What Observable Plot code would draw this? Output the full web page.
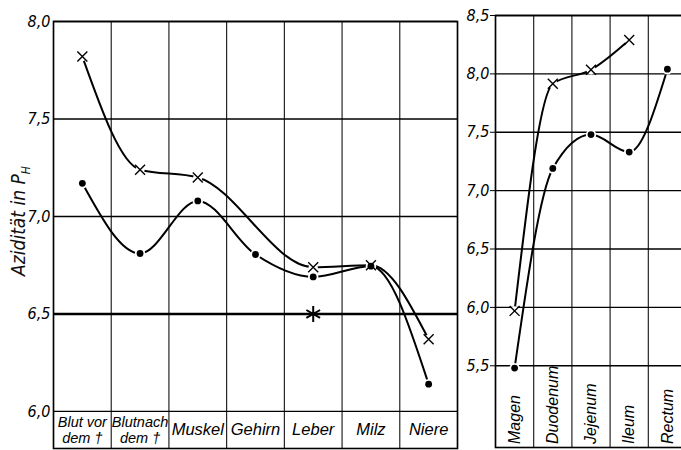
<!DOCTYPE html>
<html><head><meta charset="utf-8">
<script src="https://cdn.jsdelivr.net/npm/d3@7"></script>
<script src="https://cdn.jsdelivr.net/npm/@observablehq/plot@0.6"></script>
<style>
html,body{margin:0;padding:0;background:#fff;overflow:hidden;}
#wrap{position:relative;width:681px;height:450px;overflow:hidden;background:#fff;}
#left,#right{position:absolute;top:0;}
#left{left:0;width:460px;}
#right{left:455px;width:231px;}
#ylab{position:absolute;left:20px;top:221px;transform:translate(-50%,-50%) rotate(-90deg);font:italic 19px "DejaVu Sans Condensed","DejaVu Sans",sans-serif;white-space:nowrap;color:#111;z-index:2;}
#ylab sub{font-size:12px;}
</style></head><body>
<div id="wrap"><div id="ylab">Azidität in P<sub>H</sub></div><div id="left"></div><div id="right"></div></div>
<script>
// ---- data ----
const organs = ["Blut vor\ndem †", "Blutnach\ndem †", "Muskel", "Gehirn", "Leber", "Milz", "Niere"];
const organsCross = [7.82, 7.24, 7.20, null, 6.74, 6.75, 6.37];   // × series
const organsDot   = [7.17, 6.81, 7.08, 6.805, 6.69, 6.745, 6.14]; // • series
const starOrgan = "Leber";
const starValue = 6.5;
const leftTicks = [6.0, 6.5, 7.0, 7.5, 8.0];

const gut = ["Magen", "Duodenum", "Jejenum", "Ileum", "Rectum"];
const gutCross = [5.97, 7.915, 8.035, 8.29, null];
const gutDot   = [5.48, 7.19, 7.48, 7.33, 8.04];
const rightTicks = [5.5, 6.0, 6.5, 7.0, 7.5, 8.0, 8.5];

// ---- helpers ----
const font = {fontFamily: '"DejaVu Sans Condensed","DejaVu Sans",sans-serif', fontStyle: "italic"};
const labelFont = {fontFamily: '"Liberation Sans",Arial,sans-serif', fontStyle: "italic"};
const fmt = d => d.toFixed(1).replace(".", ",");
const series = (cats, vals) => vals.map((v, i) => ({i: i + 0.5, v, cat: cats[i]})).filter(d => d.v != null);

function panelMarks(cats, crossVals, dotVals) {
  const cr = series(cats, crossVals), dt = series(cats, dotVals);
  return [
    Plot.line(cr, {x: "i", y: "v", curve: "monotone-x", stroke: "#000", strokeWidth: 2}),
    Plot.line(dt, {x: "i", y: "v", curve: "monotone-x", stroke: "#000", strokeWidth: 2}),
    Plot.dot(dt, {x: "i", y: "v", r: 5.2, fill: "white"}),
    Plot.dot(cr, {x: "i", y: "v", r: 4.6, fill: "white"}),
    Plot.dot(dt, {x: "i", y: "v", r: 3.4, fill: "#000"}),
    Plot.dot(cr, {x: "i", y: "v", symbol: "times", r: 4.6, stroke: "#000", strokeWidth: 1.4})
  ];
}

// ---- left panel ----
const L_BOTTOM = 5.81;
const leftLabels = organs.map((c, i) => ({i: i + 0.5, c, ly: (6.0 + L_BOTTOM) / 2}));
const leftPlot = Plot.plot({
  width: 460, height: 450,
  marginTop: 21, marginBottom: 2, marginLeft: 53, marginRight: 3,
  style: {background: "transparent", overflow: "visible"},
  x: {domain: [0, organs.length], axis: null},
  y: {domain: [L_BOTTOM, 8.0]},
  marks: [
    Plot.ruleX(d3.range(0, organs.length + 1), {stroke: "#111", strokeWidth: 1.1}),
    Plot.ruleY(leftTicks.filter(t => t !== starValue), {stroke: "#000", strokeWidth: 1.3}),
    Plot.ruleY([starValue], {stroke: "#000", strokeWidth: 2.6}),
    Plot.frame({stroke: "#000", strokeWidth: 1.6}),
    Plot.axisY(leftTicks, {tickFormat: fmt, tickSize: 0, tickPadding: 3, fontSize: 16, fill: "#000", ...font}),
    ...panelMarks(organs, organsCross, organsDot),
    Plot.dot([{i: organs.indexOf(starOrgan) + 0.5, v: starValue}], {x: "i", y: "v", symbol: "asterisk", r: 7.5, stroke: "#000", strokeWidth: 2}),
    Plot.text(leftLabels.filter(d => d.c.includes("\n")), {x: "i", y: "ly", text: "c", fontSize: 14.5, lineHeight: 1.1, fill: "#000", ...labelFont}),
    Plot.text(leftLabels.filter(d => !d.c.includes("\n")), {x: "i", y: "ly", text: "c", fontSize: 16.5, fill: "#000", ...labelFont})
  ]
});
document.getElementById("left").appendChild(leftPlot);

// ---- right panel ----
const R_BOTTOM = 4.80;
const rightLabels = gut.map((c, i) => ({i: i + 0.5, c, ly: R_BOTTOM + 0.03}));
const rightPlot = Plot.plot({
  width: 231, height: 450,
  marginTop: 15, marginBottom: 3, marginLeft: 40, marginRight: 0,
  style: {background: "transparent", overflow: "visible"},
  x: {domain: [0, gut.length], axis: null},
  y: {domain: [R_BOTTOM, 8.5]},
  marks: [
    Plot.ruleX(d3.range(0, gut.length + 1), {stroke: "#111", strokeWidth: 1.1}),
    Plot.ruleY(rightTicks, {stroke: "#000", strokeWidth: 1.3}),
    Plot.frame({stroke: "#000", strokeWidth: 1.6}),
    Plot.axisY(rightTicks, {tickFormat: fmt, tickSize: 5, tickPadding: 1, fontSize: 16, fill: "#000", ...font}),
    ...panelMarks(gut, gutCross, gutDot),
    Plot.text(rightLabels, {x: "i", y: "ly", text: "c", rotate: -90, textAnchor: "start", fontSize: 16, fill: "#000", ...labelFont})
  ]
});
document.getElementById("right").appendChild(rightPlot);
</script>
</body></html>
